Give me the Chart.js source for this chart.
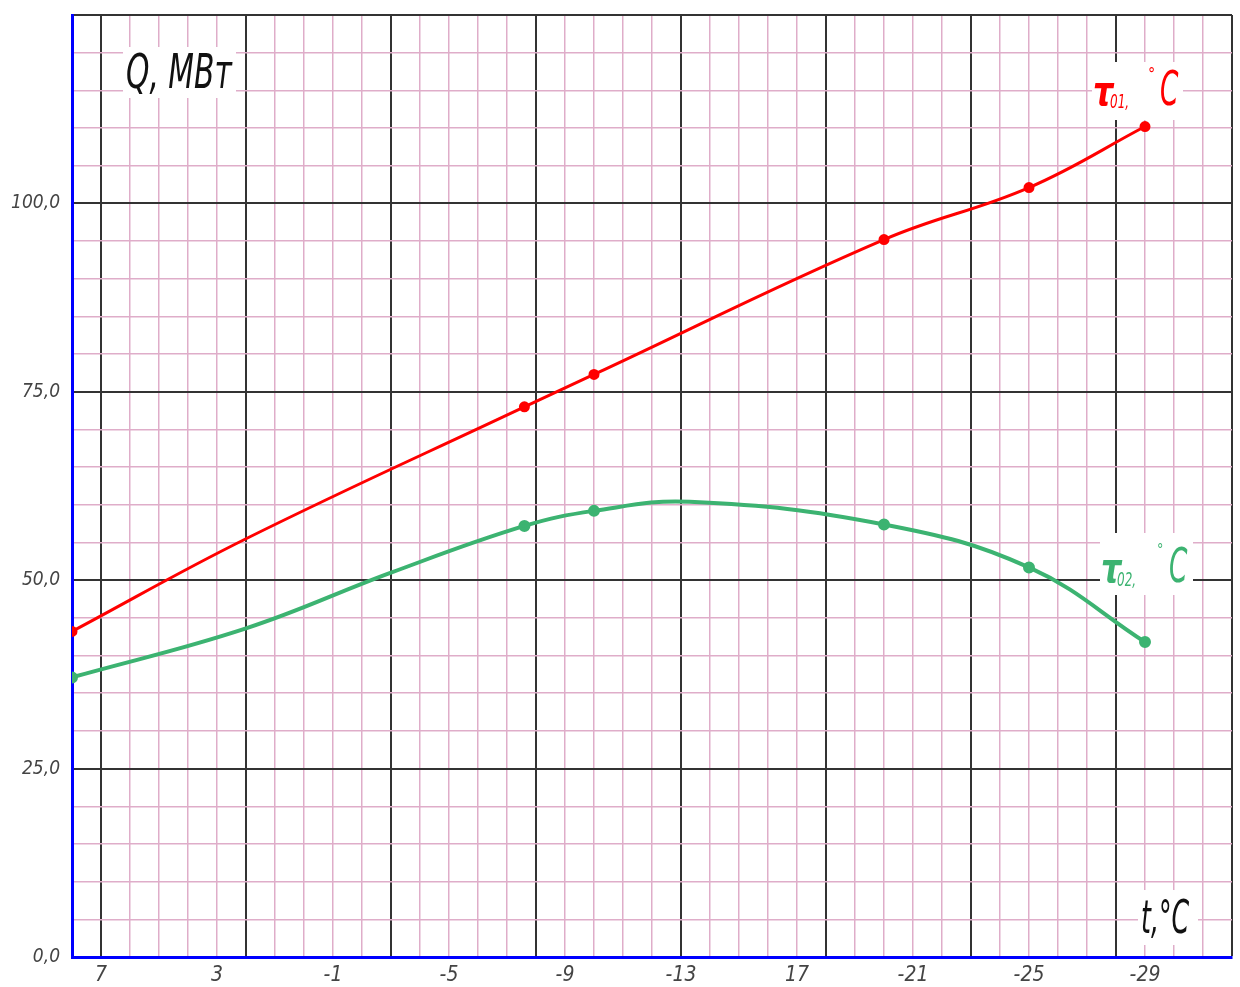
<!DOCTYPE html>
<html>
<head>
<meta charset="utf-8">
<script src="https://cdn.jsdelivr.net/npm/chart.js@4.4.0/dist/chart.umd.min.js"></script>
<style>
    html, body { margin: 0; padding: 0; background: #fff; }
    #wrap { width: 1240px; height: 987px; }
</style>
</head>
<body>
<div id="wrap"><canvas id="lineChart"></canvas></div>
<script>
// outside air temperature, t °C
var t01 = [8, 2, -7.6, -10, -20, -25, -29];
var tau01 = [43.2, 55.5, 73.0, 77.3, 95.2, 102.1, 110.2];
var mark01 = [1, 0, 1, 1, 1, 1, 1];

var t02 = [8, 2, -3, -7.6, -10, -13.3, -20, -25, -29];
var tau02 = [37.1, 43.6, 51.0, 57.2, 59.2, 60.4, 57.4, 51.7, 41.8];
var mark02 = [1, 0, 0, 1, 1, 0, 1, 1, 1];

// tick labels as printed on the sheet
var xTickValues = [7, 3, -1, -5, -9, -13, -17, -21, -25, -29];
var xTickLabels = ['7', '3', '-1', '-5', '-9', '-13', '17', '-21', '-25', '-29'];
var yTickValues = [0, 25, 50, 75, 100];
var yTickLabels = ['0,0', '25,0', '50,0', '75,0', '100,0'];

var PINK = '#dfadc9';
var DARK = '#333333';
var BLUE = '#0000ff';
var RED = '#ff0000';
var GREEN = '#3cb371';
var tickFont = "'Liberation Sans Narrow', 'DejaVu Sans Condensed', sans-serif";

function toPoints(xs, ys) {
    return xs.map(function (x, i) { return { x: x, y: ys[i] }; });
}

function drawText(ctx, text, x, y, size, color, sx, weight) {
    ctx.save();
    ctx.translate(x, y);
    ctx.scale(sx, 1);
    ctx.font = 'italic ' + (weight || 'normal') + ' ' + size + 'px "DejaVu Sans", sans-serif';
    ctx.fillStyle = color;
    ctx.textBaseline = 'alphabetic';
    ctx.textAlign = 'left';
    ctx.fillText(text, 0, 0);
    ctx.restore();
}

// white patches with captions, drawn under the curves
var captions = {
    id: 'captions',
    beforeDatasetsDraw: function (chart) {
        var ctx = chart.ctx;
        ctx.save();
        ctx.fillStyle = '#fff';
        ctx.fillRect(123, 47, 113, 51);
        ctx.fillRect(1092, 62, 91, 58);
        ctx.fillRect(1100, 533, 93, 62);
        ctx.fillRect(1138, 890, 60, 55);
        ctx.restore();

        drawText(ctx, 'Q, МВт', 126, 88, 48, '#111', 0.62);

        drawText(ctx, 'τ', 1093, 105, 40, RED, 0.8, 'bold');
        drawText(ctx, '01,', 1110, 108, 20, RED, 0.6);
        drawText(ctx, '°', 1148, 80, 18, RED, 0.8);
        drawText(ctx, 'C', 1160, 105, 48, RED, 0.55);

        drawText(ctx, 'τ', 1101, 582, 40, GREEN, 0.8, 'bold');
        drawText(ctx, '02,', 1117, 586, 20, GREEN, 0.6);
        drawText(ctx, '°', 1157, 555, 16, GREEN, 0.8);
        drawText(ctx, 'C', 1169, 582, 48, GREEN, 0.55);

        drawText(ctx, 't,°C', 1141, 933, 46, '#111', 0.55);
    }
};

var ctx1 = document.getElementById('lineChart').getContext('2d');
var lineChart = new Chart(ctx1, {
    type: 'line',
    data: {
        datasets: [{
            label: 'τ01, °C',
            data: toPoints(t01, tau01),
            borderColor: RED,
            backgroundColor: RED,
            borderWidth: 3,
            tension: 0.4,
            pointRadius: mark01.map(function (m) { return m ? 4 : 0; }),
            pointHoverRadius: 0
        }, {
            label: 'τ02, °C',
            data: toPoints(t02, tau02),
            borderColor: GREEN,
            backgroundColor: GREEN,
            borderWidth: 4,
            tension: 0.4,
            pointRadius: mark02.map(function (m) { return m ? 4 : 0; }),
            pointHoverRadius: 0
        }]
    },
    options: {
        responsive: true,
        maintainAspectRatio: false,
        animation: false,
        layout: { padding: { top: 15, right: 8, left: 0, bottom: 0 } },
        plugins: {
            legend: { display: false },
            tooltip: { enabled: false }
        },
        scales: {
            x: {
                type: 'linear',
                reverse: true,
                min: -32,
                max: 8,
                afterFit: function (scale) {
                    scale.height = 30;
                    scale.paddingLeft = 0;
                    scale.paddingRight = 0;
                },
                border: { color: BLUE, width: 3 },
                grid: {
                    drawTicks: false,
                    color: function (c) {
                        var v = c.tick.value;
                        return ((7 - v) % 5 === 0 || v === -32) ? DARK : PINK;
                    },
                    lineWidth: function (c) {
                        var v = c.tick.value;
                        return ((7 - v) % 5 === 0 || v === -32) ? 2 : 1.5;
                    }
                },
                ticks: {
                    stepSize: 1,
                    autoSkip: false,
                    maxRotation: 0,
                    padding: 6,
                    color: '#444',
                    font: { family: tickFont, size: 21, style: 'italic' },
                    callback: function (value) {
                        var i = xTickValues.indexOf(value);
                        return i >= 0 ? xTickLabels[i] : '';
                    }
                }
            },
            y: {
                min: 0,
                max: 125,
                afterFit: function (scale) {
                    scale.width = 72;
                    scale.paddingTop = 0;
                    scale.paddingBottom = 0;
                },
                border: { color: BLUE, width: 3 },
                grid: {
                    drawTicks: false,
                    color: function (c) {
                        return c.tick.value % 25 === 0 ? DARK : PINK;
                    },
                    lineWidth: function (c) {
                        return c.tick.value % 25 === 0 ? 2 : 1.5;
                    }
                },
                ticks: {
                    stepSize: 5,
                    autoSkip: false,
                    padding: 12,
                    color: '#444',
                    font: { family: tickFont, size: 19, style: 'italic' },
                    callback: function (value) {
                        var i = yTickValues.indexOf(value);
                        return i >= 0 ? yTickLabels[i] : '';
                    }
                }
            }
        }
    },
    plugins: [captions]
});
</script>
</body>
</html>
